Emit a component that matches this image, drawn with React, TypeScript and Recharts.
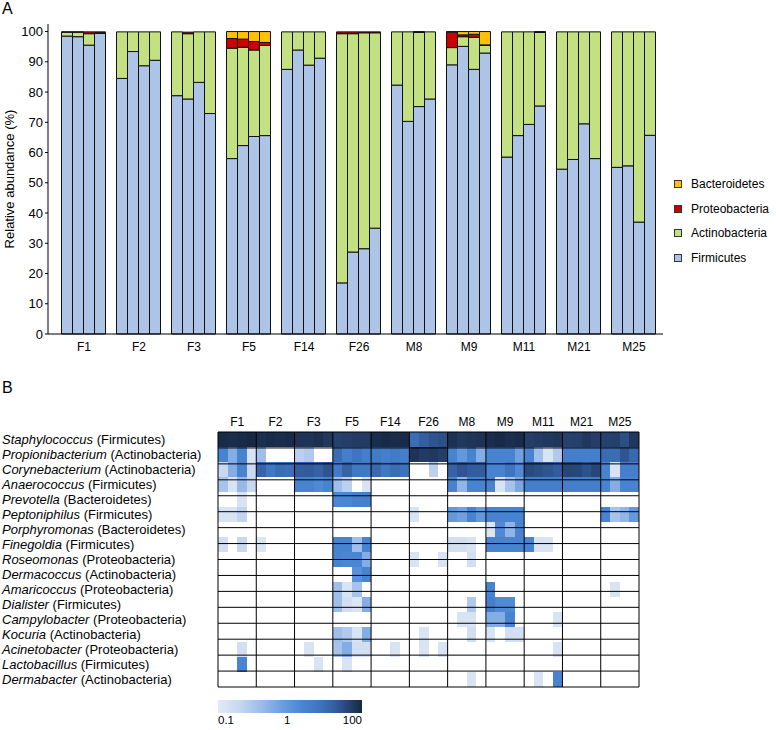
import React from 'react';
import { BarChart, Bar, XAxis, YAxis, Legend, ReferenceLine, Cell } from 'recharts';

// ---------- Panel A data ----------
const groups = ['F1', 'F2', 'F3', 'F5', 'F14', 'F26', 'M8', 'M9', 'M11', 'M21', 'M25'];
const phylumKeys = ['firm', 'act', 'pro', 'bac'];
const phylumNames = ['Firmicutes', 'Actinobacteria', 'Proteobacteria', 'Bacteroidetes'];
const phylumColors = ['#aec4e7', '#c3e083', '#cc0000', '#ffc000'];
const yTicks = [0, 10, 20, 30, 40, 50, 60, 70, 80, 90, 100];

const firmicutes = [
  98.5, 98.3, 95.5, 99.4, 84.5, 93.4, 88.7, 90.5, 78.8, 77.7, 83.2, 72.9,
  58.0, 62.3, 65.3, 65.6, 87.5, 93.9, 88.9, 91.2, 16.9, 27.1, 28.2, 35.0,
  82.3, 70.3, 75.2, 77.7, 89.0, 95.1, 87.5, 92.9, 58.5, 65.6, 69.3, 75.4,
  54.5, 57.7, 69.5, 58.0, 55.1, 55.6, 37.0, 65.7,
];
const actinobacteria = [
  1.3, 1.5, 3.8, 0.2, 15.4, 6.5, 11.2, 9.4, 21.1, 21.6, 16.7, 27.0,
  36.5, 32.5, 28.6, 29.8, 12.4, 6.0, 11.0, 8.7, 82.4, 72.2, 71.4, 64.6,
  17.6, 29.6, 24.5, 22.2, 5.7, 3.2, 10.6, 2.5, 41.4, 34.3, 30.6, 24.3,
  45.4, 42.2, 30.4, 41.9, 44.8, 44.3, 62.9, 34.2,
];
const proteobacteria = [
  0.1, 0.1, 0.6, 0.3, 0, 0, 0, 0, 0, 0.5, 0, 0,
  3.2, 2.7, 2.8, 1.0, 0, 0, 0, 0, 0.6, 0.6, 0.3, 0.3,
  0, 0, 0.3, 0, 5.1, 0.6, 1.0, 0.2, 0, 0, 0, 0.3,
  0, 0, 0, 0, 0, 0, 0, 0,
];
const bacteroidetes = [
  0, 0, 0, 0, 0, 0, 0, 0, 0, 0, 0, 0,
  2.3, 2.5, 3.3, 3.6, 0, 0, 0, 0, 0, 0, 0, 0,
  0, 0, 0, 0, 0.2, 1.1, 0.9, 4.4, 0, 0, 0, 0,
  0, 0, 0, 0, 0, 0, 0, 0,
];
const phylumSeries = [firmicutes, actinobacteria, proteobacteria, bacteroidetes];

// ---------- Panel B data ----------
const genera = [
  'Staphylococcus', 'Propionibacterium', 'Corynebacterium', 'Anaerococcus', 'Prevotella',
  'Peptoniphilus', 'Porphyromonas', 'Finegoldia', 'Roseomonas', 'Dermacoccus', 'Amaricoccus',
  'Dialister', 'Campylobacter', 'Kocuria', 'Acinetobacter', 'Lactobacillus', 'Dermabacter',
];
const generaPhyla = [
  'Firmicutes', 'Actinobacteria', 'Actinobacteria', 'Firmicutes', 'Bacteroidetes',
  'Firmicutes', 'Bacteroidetes', 'Firmicutes', 'Proteobacteria', 'Actinobacteria', 'Proteobacteria',
  'Firmicutes', 'Proteobacteria', 'Actinobacteria', 'Proteobacteria', 'Firmicutes', 'Actinobacteria',
];

const heatStaphylococcus = [90, 85, 88, 98, 80, 90, 85, 88, 70, 70, 78, 62, 45, 50, 55, 55, 85, 92, 87, 90, 10, 18, 25, 30, 75, 62, 68, 72, 85, 92, 82, 88, 50, 55, 60, 65, 45, 48, 62, 50, 45, 48, 30, 60];
const heatPropionibacterium = [3, 0.6, 3, 0.13, 0.4, 0, 0, 0, 0.25, 0.3, 0, 0, 10, 4, 7, 4, 5, 4, 5, 4, 70, 55, 60, 50, 3, 1, 3, 0.6, 3, 3, 3, 0.8, 3, 0.4, 0.13, 0.3, 4, 4, 4, 4, 10, 10, 25, 12];
const heatCorynebacterium = [0.2, 0.6, 3, 0.18, 14, 6, 10, 9, 20, 21, 16, 26, 5, 15, 6, 6, 12, 6, 10, 8, 0, 0, 0.25, 0, 15, 25, 20, 20, 3, 3, 7, 2, 35, 30, 25, 20, 40, 38, 28, 38, 3, 0.13, 4, 4];
const heatAnaerococcus = [0.35, 0.13, 0.45, 0.2, 0, 0, 0, 0, 3, 3, 2, 3, 0.4, 0.25, 0, 0.13, 0, 0, 0, 0, 0, 0, 0, 0, 3, 0.5, 3, 3, 3, 0.13, 0.35, 0.7, 4, 4, 4, 4, 4, 4, 4, 4, 3, 0.6, 3, 3];
const heatPrevotella = [0, 0, 0.13, 0, 0, 0, 0, 0, 0, 0, 0, 0, 2.3, 2.5, 3.3, 3.6, 0, 0, 0, 0, 0, 0, 0, 0, 0, 0, 0, 0, 0, 0, 0, 0, 0, 0, 0, 0, 0, 0, 0, 0, 0, 0, 0, 0];
const heatPeptoniphilus = [0.13, 0.13, 0.22, 0, 0, 0, 0, 0, 0, 0, 0, 0, 0, 0, 0, 0, 0, 0, 0, 0, 0.13, 0, 0, 0, 1, 0.8, 3, 1, 3, 3, 3, 3, 0, 0, 0, 0, 0, 0, 0, 0, 3, 0.35, 0.5, 1];
const heatPorphyromonas = [0, 0, 0, 0, 0, 0, 0, 0, 0, 0, 0, 0, 0, 0, 0, 0, 0, 0, 0, 0, 0, 0, 0, 0, 0, 0, 0, 0, 0.12, 2, 0.5, 3, 0, 0, 0, 0, 0, 0, 0, 0, 0, 0, 0, 0];
const heatFinegoldia = [0.15, 0, 0.2, 0, 0.12, 0, 0, 0, 0, 0, 0, 0, 3, 3, 0.4, 3, 0, 0, 0, 0, 0, 0, 0, 0, 0.15, 0.15, 0.13, 0, 3, 3, 3, 3, 3, 0.13, 0.13, 0, 0, 0, 0, 0, 0, 0, 0, 0];
const heatRoseomonas = [0, 0, 0, 0, 0, 0, 0, 0, 0, 0, 0, 0, 3, 2.5, 2.5, 0.6, 0, 0, 0, 0, 0.13, 0, 0, 0.13, 0, 0, 0.15, 0, 0, 0, 0, 0, 0, 0, 0, 0, 0, 0, 0, 0, 0, 0, 0, 0];
const heatDermacoccus = [0, 0, 0, 0, 0, 0, 0, 0, 0, 0, 0, 0, 0, 0, 1.5, 3, 0, 0, 0, 0, 0, 0, 0, 0, 0, 0, 0, 0, 0, 0, 0, 0, 0, 0, 0, 0, 0, 0, 0, 0, 0, 0, 0, 0];
const heatAmaricoccus = [0, 0, 0, 0, 0, 0, 0, 0, 0, 0, 0, 0, 0.4, 0.13, 0.35, 0, 0, 0, 0, 0, 0, 0, 0, 0, 0, 0, 0, 0, 3, 0, 0, 0, 0, 0, 0, 0, 0, 0, 0, 0, 0, 0.13, 0, 0];
const heatDialister = [0, 0, 0, 0, 0, 0, 0, 0, 0, 0, 0, 0, 0.4, 0.15, 0.12, 0.6, 0, 0, 0, 0, 0, 0, 0, 0, 0, 0, 0.3, 0, 4, 2, 2, 0, 0, 0, 0, 0, 0, 0, 0, 0, 0, 0, 0, 0];
const heatCampylobacter = [0, 0, 0, 0, 0, 0, 0, 0, 0, 0, 0, 0, 0, 0, 0, 0, 0, 0, 0, 0, 0, 0, 0, 0, 0, 0.13, 0.13, 0, 0.6, 0.6, 3, 0, 0, 0, 0, 0.13, 0, 0, 0, 0, 0, 0, 0, 0];
const heatKocuria = [0, 0, 0, 0, 0, 0, 0, 0, 0, 0, 0, 0, 0.4, 0.3, 0.13, 0.6, 0, 0, 0, 0, 0, 0.13, 0, 0, 0, 0, 0.15, 0, 0.13, 0, 0.15, 0.15, 0, 0, 0, 0, 0, 0, 0, 0, 0, 0, 0, 0];
const heatAcinetobacter = [0, 0, 0.15, 0, 0, 0, 0, 0, 0, 0.13, 0, 0, 0.35, 0.6, 0.15, 0.15, 0, 0, 0.13, 0, 0, 0.13, 0, 0.13, 0, 0, 0, 0, 0, 0, 0, 0, 0, 0, 0, 0.13, 0, 0, 0, 0, 0, 0, 0, 0];
const heatLactobacillus = [0, 0, 3, 0, 0, 0, 0, 0, 0, 0, 0.13, 0, 0, 0.13, 0, 0, 0, 0, 0, 0, 0, 0, 0, 0, 0, 0, 0, 0, 0, 0, 0, 0, 0, 0, 0, 0, 0, 0, 0, 0, 0, 0, 0, 0];
const heatDermabacter = [0, 0, 0, 0, 0, 0, 0, 0, 0, 0, 0, 0, 0, 0, 0, 0, 0, 0, 0, 0, 0, 0, 0, 0, 0, 0, 0.13, 0, 0, 0, 0, 0, 0, 0.13, 0, 3, 0, 0, 0, 0, 0, 0, 0, 0];

const heatRows = [
  heatStaphylococcus, heatPropionibacterium, heatCorynebacterium, heatAnaerococcus, heatPrevotella,
  heatPeptoniphilus, heatPorphyromonas, heatFinegoldia, heatRoseomonas, heatDermacoccus, heatAmaricoccus,
  heatDialister, heatCampylobacter, heatKocuria, heatAcinetobacter, heatLactobacillus, heatDermabacter,
];
const colorbarLabels = ['0.1', '1', '100'];

// ---------- colour scale ----------
const stops: [number, string][] = [
  [0, '#e2eaf6'], [0.15, '#c6d7f0'], [0.3, '#9dbce9'], [0.45, '#6b9de0'], [0.58, '#4a86d4'],
  [0.7, '#3f75c0'], [0.82, '#325c9c'], [0.92, '#243f6a'], [1, '#172744'],
];
const hexToRgb = (h: string) => [1, 3, 5].map((i) => parseInt(h.slice(i, i + 2), 16));
function heatColor(v: number): string {
  if (!v || v <= 0) return '#ffffff';
  const l = Math.log10(v);
  let t = l < 0 ? 0.48 * (l + 1) : 0.48 + 0.26 * l;
  t = Math.max(0, Math.min(1, t));
  for (let i = 1; i < stops.length; i++) {
    if (t <= stops[i][0]) {
      const [t0, c0] = stops[i - 1];
      const [t1, c1] = stops[i];
      const f = (t - t0) / (t1 - t0);
      const a = hexToRgb(c0);
      const b = hexToRgb(c1);
      const c = a.map((x, k) => Math.round(x + (b[k] - x) * f));
      return `rgb(${c[0]},${c[1]},${c[2]})`;
    }
  }
  return stops[stops.length - 1][1];
}

// ---------- tables ----------
const stackData = groups.map((g, gi) => {
  const row: any = { group: g };
  for (let r = 0; r < 4; r++) {
    phylumKeys.forEach((pk, pi) => {
      row[`${pk}${r}`] = phylumSeries[pi][gi * 4 + r];
    });
  }
  return row;
});
const sampleCount = groups.length * 4;
const sampleIdx = Array.from({ length: sampleCount }, (_, j) => j);
const heatData = genera.map((g) => {
  const row: any = { genus: g };
  sampleIdx.forEach((j) => { row[`s${j}`] = 1; });
  return row;
});
const groupCenters = groups.map((_, i) => i * 4 + 2);
const groupBounds = Array.from({ length: groups.length + 1 }, (_, i) => i * 4);
const rowBounds = Array.from({ length: genera.length + 1 }, (_, i) => i);

const FONT = '"Liberation Sans", Arial, Helvetica, sans-serif';

const GenusTick = (props: any) => {
  const { y, payload } = props;
  const i = genera.indexOf(payload.value);
  return (
    <text x={2} y={y} dy="0.36em" fontSize={13} fill="#000" style={{ whiteSpace: 'pre' }} fontFamily={FONT}>
      <tspan fontStyle="italic">{payload.value}</tspan>
      <tspan>{` (${generaPhyla[i]})`}</tspan>
    </text>
  );
};

const LegendContent = () => (
  <div style={{ fontFamily: FONT, fontSize: 12, color: '#000' }}>
    {[3, 2, 1, 0].map((pi) => (
      <div key={pi} style={{ display: 'flex', alignItems: 'center', height: 24.5 }}>
        <div style={{ width: 6, height: 6, background: phylumColors[pi], border: '1px solid #333', marginRight: 9 }} />
        <span>{phylumNames[pi]}</span>
      </div>
    ))}
  </div>
);

export default function App() {
  const gradient = `linear-gradient(to right, ${stops.map(([t, c]) => `${c} ${t * 100}%`).join(', ')})`;
  const lblStyle: React.CSSProperties = { position: 'absolute', top: 714, fontSize: 11.5, lineHeight: '13px' };
  return (
    <div style={{ position: 'absolute', left: 0, top: 0, width: 776, height: 730, background: '#fff', fontFamily: FONT, overflow: 'hidden' }}>
      <style>{`.heat path { shape-rendering: crispEdges; }`}</style>
      <div style={{ position: 'absolute', left: 2, top: 0, fontSize: 16, lineHeight: '18px' }}>A</div>
      <div style={{ position: 'absolute', left: 2, top: 379, fontSize: 16, lineHeight: '18px' }}>B</div>

      {/* Panel A */}
      <div style={{ position: 'absolute', left: 0, top: 0 }}>
        <BarChart
          width={776}
          height={362}
          data={stackData}
          margin={{ top: 24, right: 113, bottom: 0, left: 0 }}
          barCategoryGap={5}
          barGap={0}
        >
          <XAxis
            dataKey="group"
            height={28}
            padding={{ left: 8.5, right: 1.5 }}
            tickLine={false}
            axisLine={{ stroke: '#000' }}
            tick={{ fill: '#000', fontSize: 12 }}
            interval={0}
          />
          <YAxis
            width={48}
            domain={[0, 102.5]}
            ticks={yTicks}
            tickSize={3}
            tickMargin={2}
            axisLine={{ stroke: '#000' }}
            tickLine={{ stroke: '#000' }}
            tick={{ fill: '#000', fontSize: 13 }}
            label={{ value: 'Relative abundance (%)', angle: -90, position: 'insideLeft', offset: 9, style: { textAnchor: 'middle', fontSize: 13, fill: '#000' } }}
          />
          {[0, 1, 2, 3].flatMap((r) =>
            phylumKeys.map((pk, pi) => (
              <Bar
                key={`${pk}${r}`}
                dataKey={`${pk}${r}`}
                stackId={`s${r}`}
                fill={phylumColors[pi]}
                stroke="#111"
                strokeWidth={1}
                isAnimationActive={false}
              />
            ))
          )}
          <Legend
            layout="vertical"
            align="center"
            verticalAlign="middle"
            content={<LegendContent />}
            wrapperStyle={{ position: 'absolute', left: 674, top: 172, width: 110 }}
          />
        </BarChart>
      </div>

      {/* Panel B heatmap */}
      <div className="heat" style={{ position: 'absolute', left: 0, top: 400 }}>
        <BarChart
          width={776}
          height={300}
          data={heatData}
          layout="vertical"
          margin={{ top: 0, right: 137, bottom: 13, left: 0 }}
          barCategoryGap={0}
          barGap={0}
        >
          <XAxis
            type="number"
            domain={[0, sampleCount]}
            orientation="top"
            height={32}
            ticks={groupCenters}
            tickFormatter={(v: number) => groups[(v - 2) / 4]}
            axisLine={false}
            tickLine={false}
            tickSize={0}
            tickMargin={6}
            interval={0}
            tick={{ fill: '#000', fontSize: 12 }}
          />
          <YAxis
            type="category"
            dataKey="genus"
            width={218}
            axisLine={false}
            tickLine={false}
            interval={0}
            tick={<GenusTick />}
          />
          <YAxis yAxisId="num" type="number" domain={[0, genera.length]} hide />
          {sampleIdx.map((j) => (
            <Bar key={j} dataKey={`s${j}`} stackId="h" isAnimationActive={false}>
              {genera.map((g, gi) => (
                <Cell key={g} fill={heatColor(heatRows[gi][j])} />
              ))}
            </Bar>
          ))}
          {rowBounds.map((k) => (
            <ReferenceLine key={`h${k}`} yAxisId="num" y={k} stroke="#000" strokeWidth={1} ifOverflow="visible" />
          ))}
          {groupBounds.map((k) => (
            <ReferenceLine key={`v${k}`} x={k} stroke="#000" strokeWidth={1} ifOverflow="visible" />
          ))}
        </BarChart>
      </div>

      {/* colour bar */}
      <div style={{ position: 'absolute', left: 218, top: 700, width: 144, height: 13, background: gradient }} />
      <div style={{ ...lblStyle, left: 218 }}>{colorbarLabels[0]}</div>
      <div style={{ ...lblStyle, left: 218 + 0.48 * 144 - 10, width: 20, textAlign: 'center' }}>{colorbarLabels[1]}</div>
      <div style={{ ...lblStyle, left: 322, width: 40, textAlign: 'right' }}>{colorbarLabels[2]}</div>
    </div>
  );
}
